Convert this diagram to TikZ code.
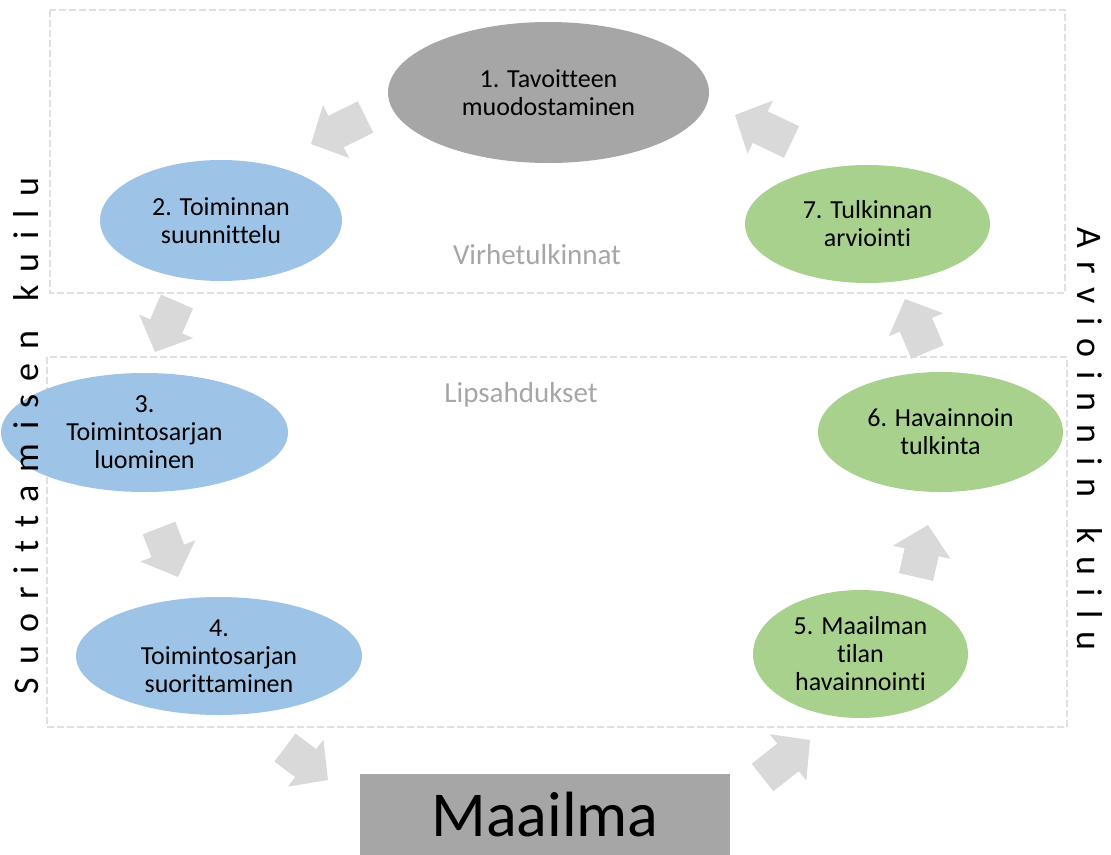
\documentclass[tikz,border=0pt]{standalone}
\usepackage{fontspec}
\setmainfont[Ligatures=NoCommon]{Carlito}
\newfontfamily\spacedfont[LetterSpace=37,Ligatures=NoCommon]{Carlito}
\usetikzlibrary{shapes.geometric,calc}

\definecolor{stepgray}{RGB}{166,166,166}
\definecolor{stepblue}{RGB}{157,195,230}
\definecolor{stepgreen}{RGB}{169,209,142}
\definecolor{arrowgray}{RGB}{217,217,217}
\definecolor{framegray}{RGB}{224,224,224}
\definecolor{labelgray}{RGB}{166,166,166}

\tikzset{
  stepnode/.style={ellipse, inner sep=0pt, align=center,
    font={\fontsize{26}{28}\selectfont}},
  framebox/.style={draw=framegray, line width=2.2pt, dash pattern=on 7pt off 3pt},
  gaplabel/.style={text=labelgray, font={\fontsize{29}{32}\selectfont}},
  gulflabel/.style={font={\spacedfont\fontsize{36}{40}\selectfont}},
  arrowfill/.style={fill=arrowgray},
}

% block arrow from a tail point to a tip point
\newcommand\blockarr[2]{%
  \path ($(#2)!28pt!(#1)$) coordinate (ba-n);
  \fill[arrowfill] ($(#1)!17.5pt!90:(#2)$) -- ($(ba-n)!17.5pt!90:(#2)$)
    -- ($(ba-n)!29.5pt!90:(#2)$) -- (#2) -- ($(ba-n)!29.5pt!-90:(#2)$)
    -- ($(ba-n)!17.5pt!-90:(#2)$) -- ($(#1)!17.5pt!-90:(#2)$) -- cycle;
}

\begin{document}
\begin{tikzpicture}[x=1pt, y=-1pt]
\useasboundingbox (0,0) rectangle (1111,854);

% dashed frames
\draw[framebox] (50,10) rectangle (1065,293);
\draw[framebox] (47,357) rectangle (1067,727);

\node[gaplabel] (virhe) at (537,255) {Virhetulkinnat};
\node[gaplabel] (lipsa) at (521,395) {Lipsahdukset};

% stages
\node[stepnode, fill=stepgray, minimum width=321pt, minimum height=141pt] (s1) at (548.5,92.5) {1. Tavoitteen\\muodostaminen};
\node[stepnode, fill=stepblue, minimum width=242pt, minimum height=121pt] (s2) at (221,220.5) {2. Toiminnan\\suunnittelu};
\node[stepnode, fill=stepblue, minimum width=287pt, minimum height=119pt] (s3) at (144.5,432.5) {3.\\Toimintosarjan\\luominen};
\node[stepnode, fill=stepblue, minimum width=286pt, minimum height=118pt] (s4) at (219,656) {4.\\Toimintosarjan\\suorittaminen};
\node[stepnode, fill=stepgreen, minimum width=215pt, minimum height=128pt] (s5) at (860.5,654) {5. Maailman\\tilan\\havainnointi};
\node[stepnode, fill=stepgreen, minimum width=245pt, minimum height=120pt] (s6) at (940.5,432) {6. Havainnoin\\tulkinta};
\node[stepnode, fill=stepgreen, minimum width=245pt, minimum height=118pt] (s7) at (867.5,224) {7. Tulkinnan\\arviointi};

\node[fill=stepgray, minimum width=370pt, minimum height=82pt, inner sep=0pt,
  font={\fontsize{64}{70}\selectfont}] (world) at (545,815) {Maailma};

% side labels
\node[gulflabel, rotate=90] (exec) at (26,436) {Suorittamisen\hspace{8pt} kuilu};
\node[gulflabel, rotate=-90] (eval) at (1090,439) {Arvioinnin\hspace{8pt} kuilu};

% cycle arrows
\coordinate (t1) at (365.5,117); \coordinate (p1) at (311,144);
\coordinate (t2) at (177,301.5); \coordinate (p2) at (155,352);
\coordinate (t3) at (159,528);   \coordinate (p3) at (178,577);
\coordinate (t4) at (285,747.5); \coordinate (p4) at (328,780);
\coordinate (t5) at (762.5,777.5); \coordinate (p5) at (810,740);
\coordinate (t6) at (916,577);   \coordinate (p6) at (928,525);
\coordinate (t7) at (927.5,352); \coordinate (p7) at (905,299);
\coordinate (t8) at (791.5,142); \coordinate (p8) at (735,115);
\blockarr{t1}{p1}
\blockarr{t2}{p2}
\blockarr{t3}{p3}
\blockarr{t4}{p4}
\blockarr{t5}{p5}
\blockarr{t6}{p6}
\blockarr{t7}{p7}
\blockarr{t8}{p8}
\end{tikzpicture}
\end{document}
